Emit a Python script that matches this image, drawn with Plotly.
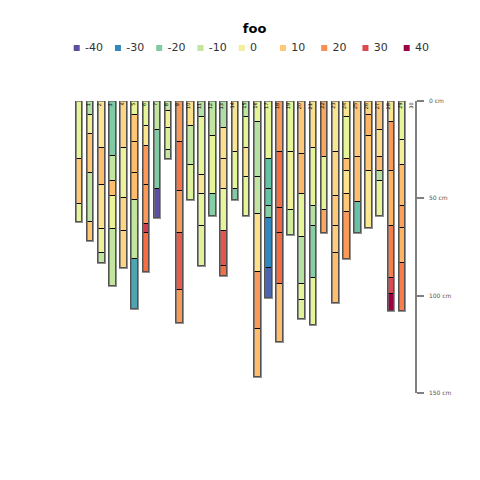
import plotly.graph_objects as go

# ---------------- data ----------------
profile_ids = ["1", "2", "3", "4", "5", "6", "7", "8", "9", "10",
               "11", "12", "13", "14", "15", "16", "17", "18", "19", "20",
               "21", "22", "23", "24", "25", "26", "27", "28", "29", "30"]

# bottom depth (cm) of each horizon, per profile
horizon_bottoms = [
    [30, 53, 62],
    [7, 17, 37, 62, 72],
    [24, 43, 66, 78, 83],
    [28, 41, 49, 66, 95],
    [24, 50, 67, 86],
    [7, 21, 37, 51, 81, 107],
    [13, 23, 43, 63, 68, 88],
    [15, 45, 60],
    [5, 14, 25, 30],
    [21, 46, 68, 97, 114],
    [13, 33, 51],
    [8, 38, 48, 64, 85],
    [18, 48, 59],
    [14, 30, 45, 67, 85, 90],
    [26, 45, 51],
    [8, 24, 39, 59],
    [11, 39, 58, 88, 117, 142],
    [30, 45, 54, 60, 86, 101],
    [26, 55, 68, 94, 124],
    [26, 56, 69],
    [27, 48, 70, 94, 102, 112],
    [24, 54, 64, 91, 115],
    [29, 56, 68],
    [26, 49, 64, 78, 104],
    [8, 30, 36, 48, 57, 81],
    [29, 52, 68],
    [7, 18, 36, 65],
    [15, 29, 36, 41, 59],
    [11, 36, 64, 91, 99, 108],
    [20, 33, 54, 65, 83, 108],
]

# horizon property value, per profile
horizon_values = [
    [-5, 10, -5],
    [-12, 0, 10, -10, 10],
    [3, 12, 5, -2, -10],
    [-20, -10, 12, -3, -10],
    [7, -3, 7, 7],
    [-4, 10, 12, 12, -10, -26],
    [-5, 3, 18, 18, 32, 24],
    [-10, -20, -40],
    [-10, 0, -7, -10],
    [18, 23, 18, 27, 18],
    [5, -10, -6],
    [-12, -5, 3, -5, -6],
    [-10, -5, -18],
    [-13, 5, 6, -5, 28, 24],
    [3, -5, -20],
    [-10, -5, 3, -5],
    [-5, -12, -10, 5, 18, 12],
    [-5, -22, -22, -18, -30, -36],
    [18, 24, 25, 24, 12],
    [-5, -1, -8],
    [10, 13, -5, -12, -5, -6],
    [5, -5, -12, -18, -5],
    [16, -5, 16],
    [3, 7, 10, 9, 12],
    [3, -5, 12, 4, 10, 18],
    [10, 12, -22],
    [7, 14, 10, 2],
    [10, 5, 12, -12, -5],
    [4, 18, 14, 22, 30, 40],
    [-5, 0, 12, 17, 14, 22],
]

legend_values = [-40, -30, -20, -10, 0, 10, 20, 30, 40]
legend_labels = ["-40", "-30", "-20", "-10", "0", "10", "20", "30", "40"]

depth_ticks = [0, 50, 100, 150]
depth_labels = ["0 cm", "50 cm", "100 cm", "150 cm"]

# colour ramp (value -> colour)
ramp_values = [-40, -30, -22, -20, -18, -12, -10, -5, 0, 5, 10, 14, 18, 20, 24, 30, 40]
ramp_colors = ["#5E4FA2", "#3288BD", "#66C2A5", "#80CBA4", "#86CFA5", "#B5E1A2",
               "#C2E6A0", "#E6F598", "#F3EE9A", "#FEE08B", "#FEC877", "#FDB465",
               "#FA9A58", "#F98E54", "#F46D43", "#DC4A52", "#9E0142"]
vmin, vmax = -40, 40
colorscale = [[(v - vmin) / (vmax - vmin), c] for v, c in zip(ramp_values, ramp_colors)]

# ---------------- build ----------------
xs, bases, thick, vals = [], [], [], []
for i, (bots, vs) in enumerate(zip(horizon_bottoms, horizon_values)):
    top = 0
    for b, v in zip(bots, vs):
        xs.append(i + 1)
        bases.append(top)
        thick.append(b - top)
        vals.append(v)
        top = b

positions = list(range(1, len(profile_ids) + 1))
totals = [b[-1] for b in horizon_bottoms]

fig = go.Figure()

fig.add_trace(go.Bar(
    x=xs, y=thick, base=bases, width=0.6,
    marker=dict(color=vals, colorscale=colorscale, cmin=vmin, cmax=vmax,
                line=dict(color="black", width=1)),
    showlegend=False, hoverinfo="skip",
))

fig.add_trace(go.Bar(
    x=positions, y=totals, base=[0] * len(totals), width=0.6,
    marker=dict(color="rgba(0,0,0,0)",
                line=dict(color="rgba(110,110,110,0.75)", width=2)),
    showlegend=False, hoverinfo="skip",
))

# legend as markers + text on an overlay axis
leg_idx = list(range(len(legend_values)))
fig.add_trace(go.Scatter(
    x=leg_idx, y=[0] * len(leg_idx), xaxis="x2", yaxis="y2",
    mode="markers",
    marker=dict(symbol="square", size=6, color=legend_values,
                colorscale=colorscale, cmin=vmin, cmax=vmax),
    showlegend=False, hoverinfo="skip", cliponaxis=False,
))
fig.add_trace(go.Scatter(
    x=[j + 0.2 for j in leg_idx], y=[0] * len(leg_idx), xaxis="x2", yaxis="y2",
    mode="text", text=legend_labels, textposition="middle right",
    textfont=dict(family="DejaVu Sans", size=11, color="#333333"),
    showlegend=False, hoverinfo="skip", cliponaxis=False,
))

# profile id labels
for p, lab in zip(positions, profile_ids):
    fig.add_annotation(x=p + 0.33, y=0, text=lab, textangle=-90,
                       xanchor="left", yanchor="top", showarrow=False,
                       font=dict(family="DejaVu Sans", size=5, color="black"))

fig.update_layout(
    width=480, height=480,
    margin=dict(l=73, r=65, t=20, b=87, pad=0),
    paper_bgcolor="white", plot_bgcolor="white",
    barmode="overlay", bargap=0,
    title=dict(text="<b>foo</b>", x=0.531, xref="paper", y=1 - 28 / 480, yref="container",
               xanchor="center", yanchor="middle",
               font=dict(family="DejaVu Sans", size=13, color="black")),
    xaxis=dict(range=[0.4614, 31.16], visible=False, domain=[0, 1]),
    yaxis=dict(range=[150, 0], domain=[0, 0.7828], side="right",
               tickmode="array", tickvals=depth_ticks, ticktext=depth_labels,
               showline=True, linecolor="#808080", linewidth=1.5,
               ticks="outside", ticklen=7, tickcolor="#808080", tickwidth=1.5,
               tickfont=dict(family="DejaVu Sans", size=6, color="#555555"),
               ticklabelstandoff=4,
               showgrid=False, zeroline=False),
    xaxis2=dict(range=[-0.0897, 8.2012], domain=[0, 1], anchor="y2", visible=False),
    yaxis2=dict(range=[-1, 1], domain=[0.85, 1], anchor="x2", visible=False),
    showlegend=False,
)

fig.write_html("out.html")
